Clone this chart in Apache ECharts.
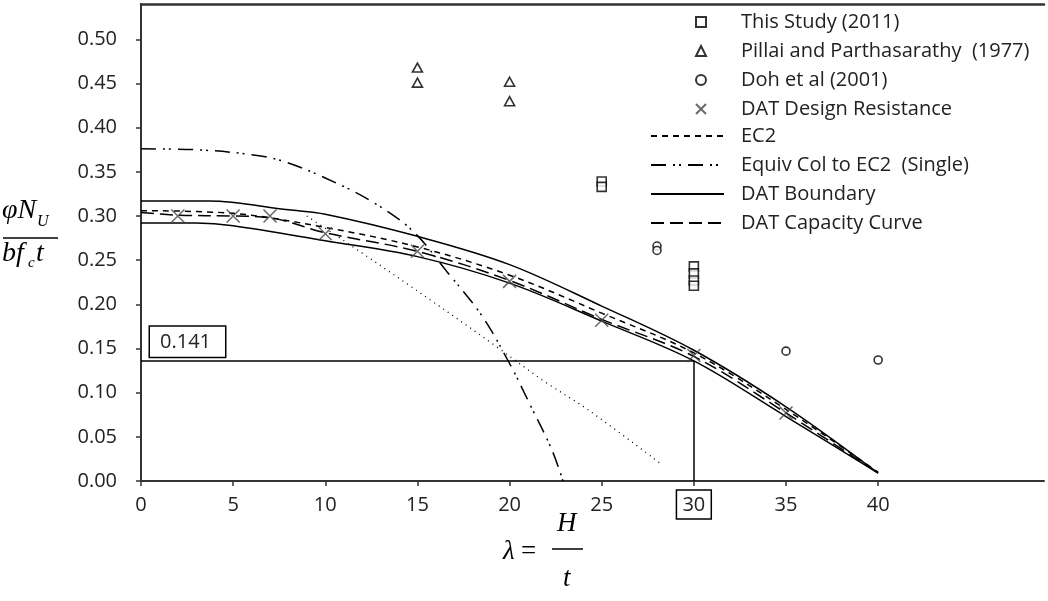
<!DOCTYPE html>
<html>
<head>
<meta charset="utf-8">
<script src="https://cdn.jsdelivr.net/npm/echarts@6/dist/echarts.min.js"></script>
<style>html,body{margin:0;padding:0;background:#fff}#c{width:1048px;height:601px}</style>
</head>
<body>
<div id="c"></div>
<script>
// ---- data ----
const xTicks = [0, 5, 10, 15, 20, 25, 30, 35, 40];
const thisStudy = [[25, 0.339], [25, 0.333], [30, 0.243], [30, 0.235], [30, 0.227], [30, 0.221]];
const pillai = [[15, 0.468], [15, 0.451], [20, 0.452], [20, 0.430]];
const doh = [[28, 0.266], [28, 0.261], [35, 0.147], [40, 0.137]];
const datDesign = [[2, 0.300], [5, 0.300], [7, 0.300], [10, 0.280], [15, 0.260], [20, 0.226], [25, 0.182], [30, 0.142], [35, 0.077]];
const ec2 = [[0, 0.306], [5, 0.303], [10, 0.287], [15, 0.265], [20, 0.233], [25, 0.190], [30, 0.145], [35, 0.081], [40, 0.010]];
const equivCol = [[0, 0.376], [3, 0.375], [6.5, 0.368], [8, 0.360], [10, 0.343], [12.4, 0.318], [14.7, 0.284], [16.6, 0.237], [18.5, 0.187], [20, 0.133], [21.1, 0.087], [22.3, 0.035], [22.9, 0.0]];
const datBoundaryUpper = [[0, 0.317], [3.7, 0.317], [8, 0.307], [10, 0.302], [15, 0.277], [20, 0.245], [25, 0.198], [30, 0.148], [35, 0.084], [40, 0.009]];
const datBoundaryLower = [[0, 0.292], [3, 0.292], [5, 0.289], [10, 0.272], [15, 0.254], [20, 0.224], [25, 0.181], [30, 0.136], [35, 0.073], [40, 0.009]];
const datCapacity = [[0, 0.304], [2, 0.301], [5, 0.300], [7, 0.298], [10, 0.281], [15, 0.260], [20, 0.227], [25, 0.183], [30, 0.141], [35, 0.077], [40, 0.009]];
const dottedLine = [[9, 0.300], [12, 0.258], [15.7, 0.205], [19.3, 0.152], [21.8, 0.114], [24.3, 0.080], [28.3, 0.018]];
const refValue = 0.136;      // drawn position of the boxed 0.141 guide line
const refLabel = '0.141';
const refX = 30;

const FONT = '"Open Sans", "Noto Sans", sans-serif';
const SERIF = '"Liberation Serif", "DejaVu Serif", serif';
const ink = '#000';

const lineBase = (name, data, type, width) => ({
  name, type: 'line', data, symbol: 'none', smooth: 0.35,
  lineStyle: { color: ink, width: width || 1.5, type: type },
  itemStyle: { color: ink }, z: 3
});

const chart = echarts.init(document.getElementById('c'), null, { renderer: 'canvas' });
chart.setOption({
  animation: false,
  backgroundColor: '#fff',
  grid: { left: 141, right: 4, top: 4, bottom: 120, containLabel: false },
  xAxis: [{
    type: 'value', min: 0, max: 49, interval: 5,
    axisLine: { show: true, onZero: false, lineStyle: { color: '#333', width: 2 } },
    axisTick: { show: true, inside: false, length: 5, customValues: xTicks, lineStyle: { color: '#333', width: 1.5 } },
    axisLabel: {
      customValues: xTicks, margin: 9, color: '#222', fontFamily: FONT, fontSize: 20,
      formatter: v => (v === refX ? '{b|' + v + '}' : '{a|' + v + '}'),
      rich: {
        a: { fontFamily: FONT, fontSize: 20, color: '#222', padding: [5, 6, 4, 6] },
        b: { fontFamily: FONT, fontSize: 20, color: '#222', padding: [5, 6, 4, 6], borderColor: '#000', borderWidth: 1.5 }
      }
    },
    splitLine: { show: false }
  }, {
    type: 'value', position: 'top', min: 0, max: 49,
    axisLine: { show: true, onZero: false, lineStyle: { color: '#333', width: 2.5 } },
    axisTick: { show: false }, axisLabel: { show: false }, splitLine: { show: false }
  }],
  yAxis: {
    type: 'value', min: 0, max: 0.54, interval: 0.05,
    axisLine: { show: true, lineStyle: { color: '#333', width: 2 } },
    axisTick: { show: true, length: 5, lineStyle: { color: '#333', width: 1.5 } },
    axisLabel: { showMaxLabel: false, margin: 24, color: '#222', fontFamily: FONT, fontSize: 20, formatter: v => v.toFixed(2) },
    splitLine: { show: false }
  },
  legend: [{
    orient: 'vertical', left: 695, top: 12, padding: 0, itemGap: 9,
    itemWidth: 10, itemHeight: 10,
    textStyle: { fontFamily: FONT, fontSize: 20, color: '#222', lineHeight: 20, padding: [0, 0, 0, 30] },
    data: ['This Study (2011)', 'Pillai and Parthasarathy  (1977)', 'Doh et al (2001)', 'DAT Design Resistance']
  }, {
    orient: 'vertical', left: 650, top: 126, padding: 0, itemGap: 9,
    itemWidth: 73, itemHeight: 14,
    itemStyle: { color: 'rgba(0,0,0,0)', borderWidth: 0, opacity: 0 },
    textStyle: { fontFamily: FONT, fontSize: 20, color: '#222', lineHeight: 20, padding: [0, 0, 0, 12] },
    data: ['EC2', 'Equiv Col to EC2  (Single)', 'DAT Boundary', 'DAT Capacity Curve']
  }],
  series: [
    lineBase('Dotted line', dottedLine, [1, 4.5], 1.3),
    lineBase('Equiv Col to EC2  (Single)', equivCol, [15, 7, 2, 4, 2, 7]),
    lineBase('DAT Boundary', datBoundaryUpper, 'solid'),
    lineBase('DAT Boundary', datBoundaryLower, 'solid'),
    lineBase('EC2', ec2, [6, 5]),
    lineBase('DAT Capacity Curve', datCapacity, [13, 6]),
    {
      name: 'This Study (2011)', type: 'scatter', data: thisStudy, symbol: 'rect', symbolSize: 9,
      itemStyle: { color: '#fff', borderColor: '#000', borderWidth: 1.6 }, z: 5
    },
    {
      name: 'Pillai and Parthasarathy  (1977)', type: 'scatter', data: pillai, symbol: 'triangle', symbolSize: [10, 9],
      itemStyle: { color: '#fff', borderColor: '#000', borderWidth: 1.6 }, z: 5
    },
    {
      name: 'Doh et al (2001)', type: 'scatter', data: doh, symbol: 'circle', symbolSize: 8,
      itemStyle: { color: '#fff', borderColor: '#000', borderWidth: 1.6 }, z: 5
    },
    {
      name: 'DAT Design Resistance', type: 'scatter', data: datDesign,
      symbol: 'path://M0,0L10,10M10,0L0,10', symbolSize: 13,
      itemStyle: { color: 'rgba(0,0,0,0)', borderColor: '#444', borderWidth: 1.5 }, z: 6,
      markLine: {
        silent: true, symbol: 'none', animation: false,
        lineStyle: { color: '#000', width: 1.5, type: 'solid' },
        label: { show: false },
        data: [
          [{ coord: [0, refValue], label: {
              show: true, position: 'insideStartTop', distance: [9, 4], formatter: refLabel,
              fontFamily: FONT, fontSize: 20, color: '#222', lineHeight: 20,
              backgroundColor: '#fff', borderColor: '#000', borderWidth: 1.5, padding: [5, 14, 5, 10]
            } }, { coord: [refX, refValue] }],
          [{ coord: [refX, refValue] }, { coord: [refX, 0] }]
        ]
      }
    }
  ],
  graphic: [
    { type: 'text', left: 2, top: 197, style: { text: 'φN', font: 'italic 28px ' + SERIF, fill: '#000' } },
    { type: 'text', left: 37, top: 214, style: { text: 'U', font: 'italic 16px ' + SERIF, fill: '#000' } },
    { type: 'line', shape: { x1: 3, y1: 238, x2: 58, y2: 238 }, style: { stroke: '#000', lineWidth: 1.5 } },
    { type: 'text', left: 2, top: 240, style: { text: 'bf', font: 'italic 28px ' + SERIF, fill: '#000' } },
    { type: 'text', left: 28, top: 256, style: { text: 'c', font: 'italic 15px ' + SERIF, fill: '#000' } },
    { type: 'text', left: 36, top: 240, style: { text: 't', font: 'italic 28px ' + SERIF, fill: '#000' } },
    { type: 'text', left: 503, top: 538, style: { text: 'λ', font: 'italic 27px ' + SERIF, fill: '#000' } },
    { type: 'text', left: 521, top: 538, style: { text: '=', font: '27px ' + SERIF, fill: '#000' } },
    { type: 'text', left: 557, top: 510, style: { text: 'H', font: 'italic 27px ' + SERIF, fill: '#000' } },
    { type: 'line', shape: { x1: 552, y1: 549, x2: 583, y2: 549 }, style: { stroke: '#000', lineWidth: 1.5 } },
    { type: 'text', left: 563, top: 565, style: { text: 't', font: 'italic 27px ' + SERIF, fill: '#000' } }
  ]
});
</script>
</body>
</html>
